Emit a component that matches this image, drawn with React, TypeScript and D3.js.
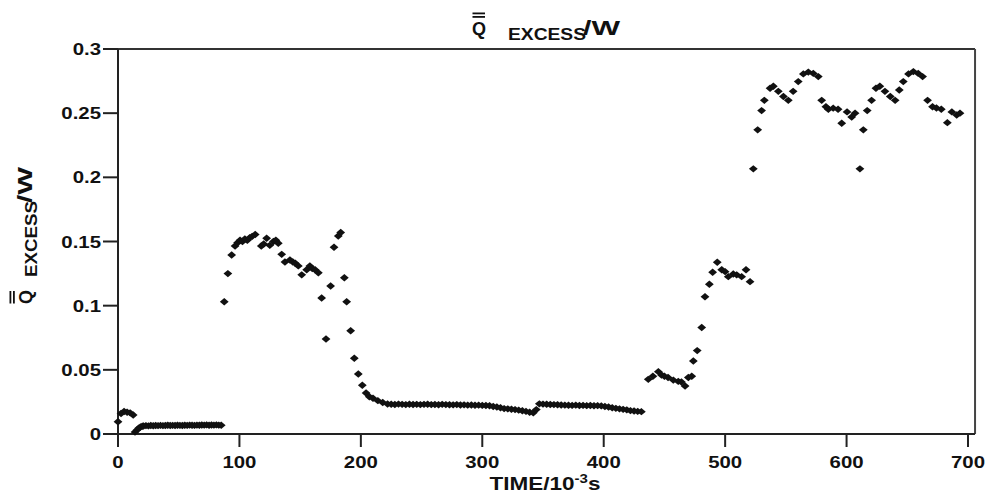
import React from "react";
import * as d3 from "d3";

// time in 10^-3 s
const timeMs = [
  0, 2.5, 5, 7.5, 10, 12.5, 14, 15.5, 17, 18.5, 20,
  21, 23, 25, 27, 29, 31, 33, 35, 37, 39, 41, 43, 45, 47, 49, 51, 53, 55, 57, 59, 61, 63, 65, 67, 69, 71, 73, 75, 77, 79, 81, 83, 85,
  87.5, 90.5, 93.6, 96.4, 98.5, 100.5, 102.5, 104.5, 106.5, 108.5,
  110.5, 113, 118, 120, 122.4, 125, 128, 130, 132, 134.8,
  137.5, 141.6, 144, 146, 148.5, 151.3, 155.4, 158, 160, 162.3,
  165, 167.7, 171.3, 175.1, 177.9, 181.4, 183.4, 186.4, 188.3, 191.6,
  194.6, 197.9, 201.2, 204.3, 207, 210, 214, 218, 222,
  225, 228, 231, 234, 237, 240, 243, 246, 249, 252,
  255, 258, 261, 264, 267, 270, 273, 276, 279, 282,
  285, 288, 291, 294, 297, 300, 303, 306, 309, 312,
  315, 318, 321, 324, 327, 330, 333, 336, 339, 342,
  344.5, 347,
  350, 353, 356, 359, 362, 365, 368, 371, 374, 377,
  380, 383, 386, 389, 392, 395, 398, 401, 404, 407,
  410, 413, 416, 419, 422, 425, 428, 431,
  436.7, 440.5, 445, 447.6, 450, 453, 457.3, 461.4, 464, 467,
  469.7, 472.5, 473.8, 477, 480.7, 483.4, 487, 489.7, 493.5, 497.2,
  500, 502.6, 506.7, 509.5, 513.6, 517.2, 520.5,
  523.2, 526.8, 530, 532.3, 537, 539.7, 543.8, 548, 552, 556,
  560.2, 564.4, 568.5, 572.6, 576.7, 579.5, 583, 585, 589, 593,
  596, 600.4, 604.2, 607, 611, 613.8, 617, 620.6, 624.2, 627.4,
  631.6, 636, 640, 643.4, 646.7, 651, 655, 659, 662.6, 666.7,
  670.8, 674, 678, 683, 686.7, 690.7, 693.4,
];

// excess heat / W
const qExcess = [
  0.0095, 0.016, 0.0175, 0.017, 0.0165, 0.0148, 0.0015, 0.003, 0.0045, 0.0055, 0.006,
  0.0062, 0.0065, 0.0063, 0.0066, 0.0064, 0.0066, 0.0065, 0.0067, 0.0065, 0.0066,
  0.0068, 0.0066, 0.0067, 0.0066, 0.0068, 0.0067, 0.0066, 0.0068, 0.0067, 0.0069,
  0.0068, 0.0067, 0.0069, 0.0068, 0.007, 0.0069, 0.0071, 0.0068, 0.007, 0.0069,
  0.0071, 0.0069, 0.0068,
  0.103, 0.125, 0.1395, 0.1465, 0.149, 0.151, 0.15, 0.152, 0.151, 0.153,
  0.154, 0.1555, 0.1465, 0.148, 0.1525, 0.147, 0.15, 0.151, 0.1486, 0.14,
  0.134, 0.1356, 0.134, 0.133, 0.131, 0.124, 0.128, 0.131, 0.129, 0.128,
  0.1257, 0.106, 0.074, 0.1153, 0.1455, 0.1543, 0.157, 0.1218, 0.103, 0.0805,
  0.059, 0.0468, 0.038, 0.032, 0.029, 0.0278, 0.026, 0.0245, 0.0234,
  0.0232, 0.023, 0.0233, 0.0231, 0.0229, 0.0232, 0.023, 0.0231, 0.0229, 0.0231,
  0.0232, 0.0229, 0.023, 0.0228, 0.0231, 0.0229, 0.0228, 0.0227, 0.0229, 0.0226,
  0.0227, 0.0225, 0.0226, 0.0224, 0.0225, 0.0223, 0.0222, 0.022, 0.0214, 0.021,
  0.0205, 0.0198, 0.0196, 0.0193, 0.019, 0.0186, 0.0181, 0.0176, 0.017, 0.0165,
  0.019, 0.0235,
  0.0233, 0.0232, 0.023, 0.0229, 0.0228, 0.0226, 0.0225, 0.0224, 0.0223, 0.0225,
  0.0222, 0.0223, 0.0221, 0.0222, 0.022, 0.0221, 0.0219, 0.0214, 0.021, 0.0205,
  0.02, 0.0196, 0.0192, 0.0188, 0.0182, 0.0179, 0.0176, 0.0174,
  0.0426, 0.045, 0.0486, 0.046, 0.045, 0.044, 0.042, 0.041, 0.0405, 0.0374,
  0.044, 0.045, 0.0569, 0.065, 0.083, 0.107, 0.1167, 0.126, 0.1338, 0.128,
  0.1265, 0.1226, 0.1247, 0.124, 0.1226, 0.128, 0.1187,
  0.2066, 0.237, 0.252, 0.26, 0.2694, 0.271, 0.267, 0.263, 0.26, 0.267,
  0.2746, 0.2806, 0.282, 0.281, 0.2785, 0.26, 0.255, 0.253, 0.2539, 0.253,
  0.2422, 0.251, 0.247, 0.25, 0.2066, 0.237, 0.252, 0.26, 0.2694, 0.271,
  0.267, 0.263, 0.26, 0.268, 0.2746, 0.2806, 0.2824, 0.281, 0.2785, 0.26,
  0.255, 0.254, 0.253, 0.2426, 0.251, 0.2486, 0.25,
];

const xTickValues = [0, 100, 200, 300, 400, 500, 600, 700];
const xTickLabels = ["0", "100", "200", "300", "400", "500", "600", "700"];
const yTickValues = [0, 0.05, 0.1, 0.15, 0.2, 0.25, 0.3];
const yTickLabels = ["0", "0.05", "0.1", "0.15", "0.2", "0.25", "0.3"];

const FONT = "'Liberation Sans', Arial, Helvetica, sans-serif";
const INK = "#111";

function QLabel(props: {
  transform: string;
  exStart: number;
  exLen: number;
  wStart: number;
  wLen: number;
}) {
  const { transform, exStart, exLen, wStart, wLen } = props;
  return (
    <g transform={transform} fill={INK} fontFamily={FONT} fontWeight="bold">
      <text x={0} y={0} fontSize={18}>Q</text>
      <rect x={0.5} y={-22.5} width={12.5} height={1.8} />
      <rect x={0.5} y={-19} width={12.5} height={1.8} />
      <text x={exStart} y={5} fontSize={16.5} textLength={exLen} lengthAdjust="spacingAndGlyphs">
        EXCESS
      </text>
      <text x={wStart} y={0} fontSize={20} textLength={wLen} lengthAdjust="spacingAndGlyphs">
        /W
      </text>
    </g>
  );
}

export default function App() {
  const x = d3.scaleLinear().domain([0, 700]).range([118, 968]);
  const y = d3.scaleLinear().domain([0, 0.3]).range([434, 49]);
  const x0 = x(0);
  const xEnd = x(705.8);
  const yTop = y(0.3);
  const yBot = y(0);
  const diamond = "M0,-3.7L4.4,0L0,3.7L-4.4,0Z";
  const points = timeMs.map((t, i) => ({ t, q: qExcess[i] }));

  return (
    <svg
      width={996}
      height={495}
      style={{ position: "fixed", left: 0, top: 0, background: "#fff" }}
    >
      <rect x={0} y={0} width={996} height={495} fill="#fff" />

      {/* frame */}
      <line x1={x0 - 15} x2={xEnd} y1={yTop} y2={yTop} stroke="#333" strokeWidth={2} />
      <line x1={xEnd} x2={xEnd} y1={yTop} y2={yBot} stroke="#444" strokeWidth={2} />
      <line x1={x0 - 15} x2={xEnd} y1={yBot} y2={yBot} stroke="#222" strokeWidth={2} />
      <line x1={x0} x2={x0} y1={yTop} y2={yBot} stroke="#222" strokeWidth={2} />

      {/* y ticks */}
      {yTickValues.map((v, i) => (
        <g key={"y" + i}>
          <line x1={x0 - 15} x2={x0} y1={y(v)} y2={y(v)} stroke="#222" strokeWidth={2} />
          <text
            transform={`translate(${x0 - 17},${y(v) + 6}) scale(1.2,1)`}
            textAnchor="end"
            fontFamily={FONT}
            fontWeight="bold"
            fontSize={17}
            fill={INK}
          >
            {yTickLabels[i]}
          </text>
        </g>
      ))}

      {/* x ticks */}
      {xTickValues.map((v, i) => (
        <g key={"x" + i}>
          <line x1={x(v)} x2={x(v)} y1={yBot} y2={yBot + 13} stroke="#222" strokeWidth={2} />
          <text
            transform={`translate(${x(v)},${yBot + 34}) scale(1.2,1)`}
            textAnchor="middle"
            fontFamily={FONT}
            fontWeight="bold"
            fontSize={17}
            fill={INK}
          >
            {xTickLabels[i]}
          </text>
        </g>
      ))}

      {/* data */}
      {points.map((p, i) => (
        <path key={i} d={diamond} transform={`translate(${x(p.t)},${y(p.q)})`} fill={INK} />
      ))}

      {/* title */}
      <QLabel transform="translate(472,35)" exStart={36} exLen={78} wStart={111} wLen={37} />

      {/* y axis label */}
      <QLabel transform="translate(32,304) rotate(-90)" exStart={27} exLen={76} wStart={101} wLen={36} />

      {/* x axis label */}
      <text
        transform="translate(545,490) scale(1.25,1)"
        textAnchor="middle"
        fontFamily={FONT}
        fontWeight="bold"
        fontSize={18}
        fill={INK}
      >
        TIME/10
        <tspan fontSize={12} dy={-7}>-3</tspan>
        <tspan fontSize={18} dy={7}>s</tspan>
      </text>
    </svg>
  );
}
